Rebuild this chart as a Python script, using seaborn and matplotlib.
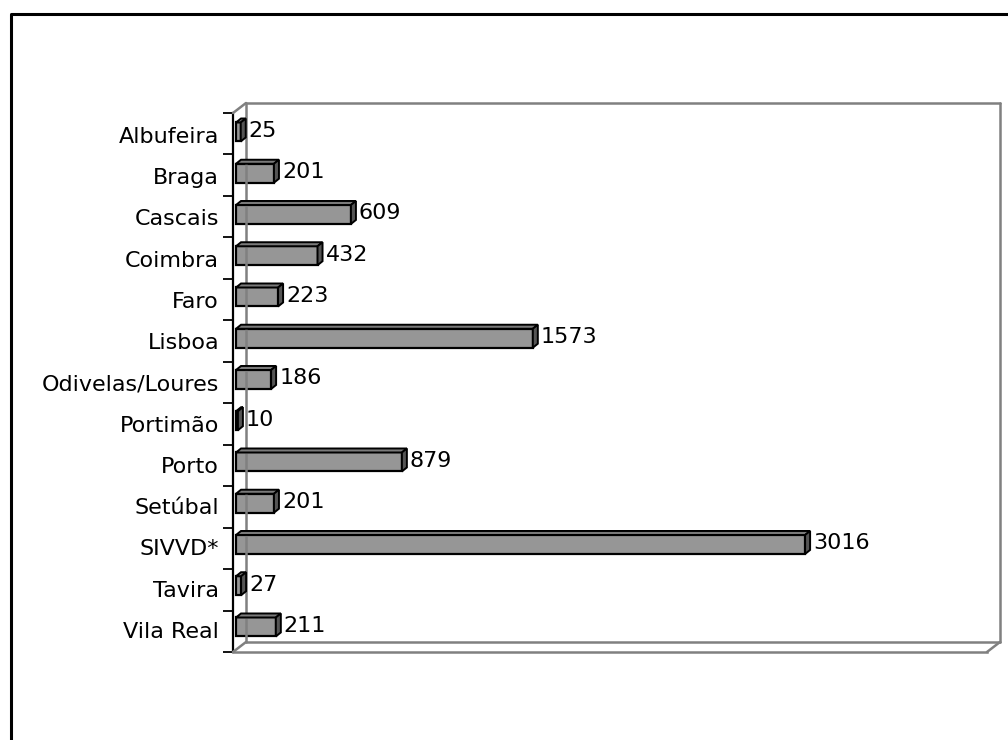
import matplotlib
matplotlib.use("Agg")
import matplotlib.pyplot as plt
import matplotlib.transforms as mtransforms
from matplotlib.patches import Polygon
from matplotlib.lines import Line2D
import seaborn as sns
import pandas as pd

categories = ["Albufeira", "Braga", "Cascais", "Coimbra", "Faro", "Lisboa",
              "Odivelas/Loures", "Portimão", "Porto", "Setúbal", "SIVVD*",
              "Tavira", "Vila Real"]
values = [25, 201, 609, 432, 223, 1573, 186, 10, 879, 201, 3016, 27, 211]

sns.set_style("white")
plt.rcParams['font.family'] = ['DejaVu Sans']
plt.rcParams['text.color'] = 'black'
plt.rcParams['ytick.color'] = 'black'
plt.rcParams['ytick.labelcolor'] = 'black'

W, H = 1008, 740
fig = plt.figure(figsize=(W / 100, H / 100), dpi=100)
fig.patch.set_facecolor("white")

def fx(px):
    return px / W

def fy(py):
    return 1 - py / H

# front plane of the plot area in pixels
L, R, T, B = 233, 987, 113, 652
DX, DY = 13, 10  # depth of the 3D frame
ax = fig.add_axes([fx(L), fy(B), (R - L) / W, (B - T) / H])
ax.set_facecolor("none")

df = pd.DataFrame({"cat": categories, "val": values})
sns.barplot(data=df, x="val", y="cat", orient="h", color="#969696",
            width=0.46, edgecolor="black", linewidth=1.6, saturation=1,
            ax=ax, zorder=3)

ax.set_xlim(-16, 3980)
ax.set_ylim(12.607, -0.46)
ax.set_xlabel("")
ax.set_ylabel("")
ax.set_xticks([])

for s in ["top", "right"]:
    ax.spines[s].set_visible(False)
ax.spines["left"].set_color("black")
ax.spines["left"].set_linewidth(1.6)
ax.spines["bottom"].set_color("#808080")
ax.spines["bottom"].set_linewidth(1.8)

# category labels, slightly lower than bar centers (front band centre)
ax.set_yticks(range(len(categories)))
ax.set_yticklabels(categories, fontsize=16, color="black")
ax.tick_params(axis="y", which="major", length=0, pad=10, labelcolor="black")
off = mtransforms.ScaledTranslation(0, -3 / 100, fig.dpi_scale_trans)
for lab in ax.get_yticklabels():
    lab.set_transform(lab.get_transform() + off)
ylo, yhi = -0.46, 12.607
bounds = [ylo + k * (yhi - ylo) / 13 for k in range(14)]
ax.set_yticks(bounds, minor=True)
ax.tick_params(axis="y", which="minor", length=7, width=1.3, color="black",
               left=True)

# 3D faces for bars
fig.canvas.draw()
inv = fig.transFigure.inverted()
bdx, bdy = 5, 4
for p in ax.patches:
    x0, y0 = p.get_x(), p.get_y()
    w, h = p.get_width(), p.get_height()
    (px0, py0), (px1, py1) = ax.transData.transform([(x0, y0), (x0 + w, y0 + h)])
    top = max(py0, py1)
    bot = min(py0, py1)
    top_face = [(px0, top), (px1, top), (px1 + bdx, top + bdy), (px0 + bdx, top + bdy)]
    side_face = [(px1, bot), (px1, top), (px1 + bdx, top + bdy), (px1 + bdx, bot + bdy)]
    for pts, col in [(top_face, "#7a7a7a"), (side_face, "#555555")]:
        poly = Polygon(inv.transform(pts), closed=True, facecolor=col,
                       edgecolor="black", linewidth=1.4,
                       transform=fig.transFigure, zorder=4)
        fig.add_artist(poly)

# value labels
for i, v in enumerate(values):
    ax.annotate(str(v), xy=(v, i), xytext=(8 / 1.389, 1 / 1.389),
                textcoords="offset points", va="center", ha="left",
                fontsize=16, color="black", zorder=5)

# 3D frame (back wall and floor) in gray
gray = "#808080"
segs = [
    [(L, T), (L + DX, T - DY)],
    [(L + DX, T - DY), (R + DX, T - DY)],
    [(R + DX, T - DY), (R + DX, B - DY)],
    [(L + DX, T - DY), (L + DX, B - DY)],
    [(L + DX, B - DY), (R + DX, B - DY)],
    [(L, B), (L + DX, B - DY)],
    [(R, B), (R + DX, B - DY)],
]
for seg in segs:
    fig.add_artist(Line2D([fx(seg[0][0]), fx(seg[1][0])],
                          [fy(seg[0][1]), fy(seg[1][1])],
                          color=gray, linewidth=1.8, transform=fig.transFigure,
                          zorder=1))

# outer chart border (left and top visible)
fig.add_artist(Line2D([fx(11), fx(11), fx(W + 5)], [fy(H + 5), fy(14), fy(14)],
                      color="black", linewidth=2.2, transform=fig.transFigure))

fig.savefig("out.png", dpi=100, facecolor="white")
